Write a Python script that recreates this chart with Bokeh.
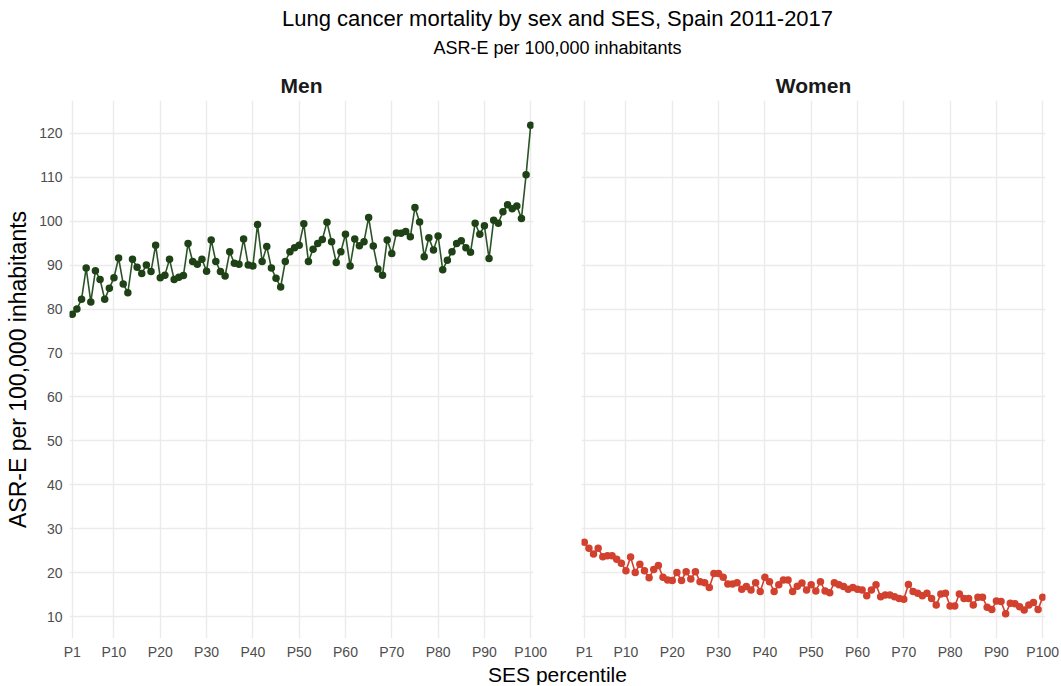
from bokeh.plotting import figure
from bokeh.layouts import column, row
from bokeh.models import Range1d, FixedTicker, Label
from bokeh.embed import file_html
from bokeh.resources import INLINE

# ---------------- data ----------------
percentile = list(range(1, 101))

men = [78.8, 80.0, 82.2, 89.3, 81.6, 88.7, 86.7, 82.2, 84.7, 87.1,
       91.6, 85.7, 83.7, 91.3, 89.5, 88.1, 90.0, 88.5, 94.5, 87.1,
       87.7, 91.3, 86.7, 87.2, 87.6, 94.9, 90.8, 90.2, 91.3, 88.6,
       95.7, 90.8, 88.5, 87.5, 93.0, 90.4, 90.2, 95.9, 90.0, 89.8,
       99.2, 90.8, 94.2, 89.3, 87.0, 85.0, 90.8, 93.0, 93.9, 94.5,
       99.4, 90.8, 93.6, 94.9, 95.8, 99.7, 95.3, 90.6, 93.0, 97.0,
       89.8, 95.9, 94.4, 95.3, 100.8, 94.3, 89.1, 87.7, 95.7, 92.6,
       97.3, 97.2, 97.6, 96.4, 103.1, 99.8, 91.9, 96.2, 93.4, 96.6,
       88.9, 91.1, 93.0, 94.9, 95.5, 93.9, 92.9, 99.5, 97.0, 98.9,
       91.5, 100.2, 99.5, 102.1, 103.7, 102.8, 103.4, 100.6, 110.5, 121.8]

women = [27.0, 25.6, 24.3, 25.6, 23.7, 23.9, 23.9, 23.1, 22.2, 20.5,
         23.6, 20.1, 22.0, 20.5, 18.9, 20.8, 21.7, 19.0, 18.4, 18.3,
         20.1, 18.3, 20.3, 18.6, 20.3, 18.0, 17.8, 16.7, 19.9, 19.9,
         19.0, 17.5, 17.5, 17.8, 16.3, 16.9, 16.1, 17.8, 15.8, 19.0,
         18.0, 15.8, 17.3, 18.4, 18.4, 15.8, 17.0, 17.7, 16.1, 17.3,
         15.9, 18.0, 15.9, 15.5, 17.8, 17.3, 16.9, 16.3, 16.7, 16.3,
         16.1, 14.8, 16.1, 17.3, 14.6, 15.0, 15.0, 14.6, 14.2, 14.0,
         17.4, 15.8, 15.4, 14.8, 15.4, 14.2, 12.7, 15.2, 15.4, 12.5,
         12.5, 15.2, 14.2, 14.2, 12.7, 14.5, 14.5, 12.2, 11.7, 13.6,
         13.5, 10.7, 13.1, 13.0, 12.3, 11.6, 12.7, 13.3, 11.7, 14.5]

x_ticks = [1, 10, 20, 30, 40, 50, 60, 70, 80, 90, 100]
x_tick_labels = ["P1", "P10", "P20", "P30", "P40", "P50", "P60", "P70", "P80", "P90", "P100"]
y_ticks = [10, 20, 30, 40, 50, 60, 70, 80, 90, 100, 110, 120]

title_text = "Lung cancer mortality by sex and SES, Spain 2011-2017"
subtitle_text = "ASR-E per 100,000 inhabitants"
x_title = "SES percentile"
y_title = "ASR-E per 100,000 inhabitants"

FONT = "Liberation Sans"
GRID = "#EBEBEB"
TOTAL_W = 1060
CENTER_X = 557


def blank(height):
    p = figure(width=TOTAL_W, height=height, x_range=Range1d(0, TOTAL_W),
               y_range=Range1d(0, height), output_backend="svg", title=None,
               toolbar_location=None, x_axis_location=None, y_axis_location=None,
               min_border=0)
    p.outline_line_color = None
    p.grid.visible = False
    return p


header = blank(64)
header.add_layout(Label(x=CENTER_X, y=46, text=title_text, text_align="center",
                        text_baseline="middle", text_font=FONT,
                        text_font_size="22px", text_color="#000000"))
header.add_layout(Label(x=CENTER_X, y=17, text=subtitle_text, text_align="center",
                        text_baseline="middle", text_font=FONT,
                        text_font_size="18px", text_color="#000000"))

footer = blank(23)
footer.add_layout(Label(x=CENTER_X, y=11.5, text=x_title, text_align="center",
                        text_baseline="middle", text_font=FONT,
                        text_font_size="21px", text_color="#000000"))


def make_panel(name, values, pt_color, ln_color, width, left, right, show_y):
    p = figure(width=width, height=598, x_range=Range1d(0.4, 100.6),
               y_range=Range1d(5.1, 127.4), output_backend="svg",
               toolbar_location=None, min_border_left=left,
               min_border_right=right, min_border_top=36, min_border_bottom=24)
    p.title.text = name
    p.title.align = "center"
    p.title.text_font = FONT
    p.title.text_font_size = "21px"
    p.title.text_font_style = "bold"
    p.title.text_color = "#1A1A1A"
    p.title.standoff = 8
    p.outline_line_color = None
    p.background_fill_color = "white"
    p.border_fill_color = "white"

    p.line(percentile, values, line_color=ln_color, line_width=1.6)
    p.scatter(percentile, values, size=7.5, fill_color=pt_color, line_color=None)

    p.xaxis.ticker = FixedTicker(ticks=x_ticks)
    p.xaxis.major_label_overrides = dict(zip(x_ticks, x_tick_labels))
    p.yaxis.ticker = FixedTicker(ticks=y_ticks)
    for ax in (p.xaxis, p.yaxis):
        ax.axis_line_color = None
        ax.major_tick_line_color = None
        ax.minor_tick_line_color = None
        ax.major_tick_out = 0
        ax.major_tick_in = 0
        ax.minor_tick_out = 0
        ax.minor_tick_in = 0
        ax.major_label_text_font = FONT
        ax.major_label_text_font_size = "14px"
        ax.major_label_text_color = "#4D4D4D"
    p.xaxis.major_label_standoff = 5
    p.yaxis.major_label_standoff = 7
    p.xgrid.ticker = FixedTicker(ticks=x_ticks)
    p.ygrid.ticker = FixedTicker(ticks=y_ticks)
    p.grid.grid_line_color = GRID
    p.grid.grid_line_width = 1.4
    p.grid.minor_grid_line_color = None

    if show_y:
        p.yaxis.axis_label = y_title
        p.yaxis.axis_label_text_font = FONT
        p.yaxis.axis_label_text_font_size = "23px"
        p.yaxis.axis_label_text_font_style = "normal"
        p.yaxis.axis_label_text_color = "#000000"
        p.yaxis.axis_label_standoff = 5
    else:
        p.yaxis.visible = False
    return p


men_p = make_panel("Men", men, "#1E4216", "#2B5426", 553, 69, 20, True)
women_p = make_panel("Women", women, "#D2402E", "#D2402E", 507, 28, 15, False)

layout = column(header, row(men_p, women_p), footer)

open("out.html", "w").write(file_html(layout, INLINE))
